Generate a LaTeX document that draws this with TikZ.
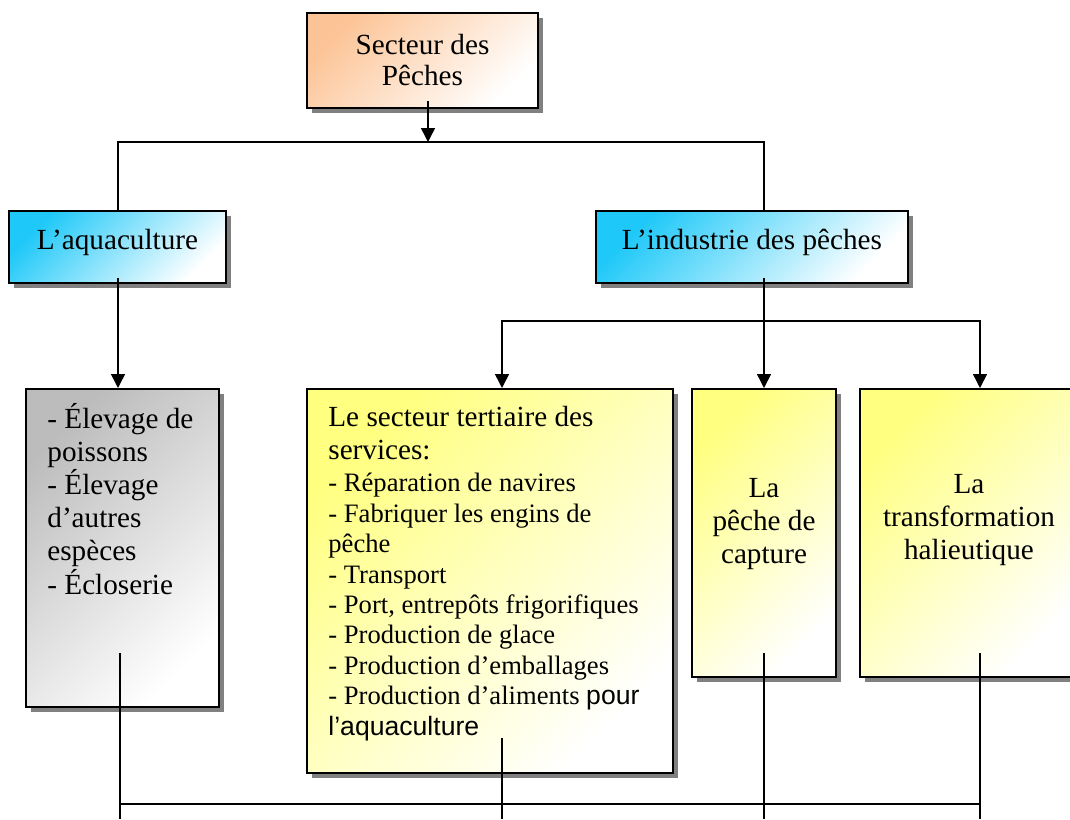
\documentclass[tikz,border=0pt]{standalone}
\usepackage{fontspec}
\setmainfont{Liberation Serif}
\newfontfamily\arialf{Liberation Sans}
\usepackage{tikz}
\usetikzlibrary{arrows.meta, shadows, calc, positioning}

\definecolor{peche}{RGB}{252,196,150}
\definecolor{ciel}{RGB}{30,200,248}
\definecolor{gris}{RGB}{188,188,188}
\definecolor{jaune}{RGB}{255,255,128}
\definecolor{ombre}{RGB}{128,128,128}

\tikzset{
    boite/.style={
        draw, rectangle, line width=1pt, inner sep=0pt, align=center,
        font=\fontsize{14.6}{16.6}\selectfont,
        top color=#1, bottom color=white, shading angle=45,
        drop shadow={shadow xshift=2.5pt, shadow yshift=-2.5pt, fill=ombre, opacity=1}
    },
    boite/.default={jaune},
    texte/.style={inner sep=0pt, align=left, font=\fontsize{14.6}{16.6}\selectfont},
    fleche/.style={line width=0.75pt, -{Triangle[width=7pt,length=7pt]}},
    trait/.style={line width=0.75pt}
}

\begin{document}
\begin{tikzpicture}[x=0.5pt, y=-0.5pt]
    \useasboundingbox (0,0) rectangle (1070,819);
    % boites
    \node[boite=peche, minimum width=115.5pt, minimum height=47.5pt, font=\fontsize{14.6}{15.5}\selectfont] (secteur) at (422.5,60.5) {Secteur des\\Pêches};
    \node[boite=ciel, minimum width=108.5pt, minimum height=36pt, text height=10pt, text depth=8pt] (aqua) at (117.5,247) {L’aquaculture};
    \node[boite=ciel, minimum width=156pt, minimum height=36pt, text height=10pt, text depth=8pt] (indus) at (752,247) {L’industrie des pêches};
    \node[boite=gris, minimum width=96.5pt, minimum height=159pt] (elevage) at (122.5,548) {};
    \node[boite, minimum width=183pt, minimum height=192pt] (tertiaire) at (490,581) {};
    \node[boite, minimum width=72pt, minimum height=144pt, text depth=12pt] (capture) at (764,533) {La\\pêche de\\capture};
    \node[boite, minimum width=109pt, minimum height=144pt, text depth=16pt] (transfo) at (969,533) {La\\transformation\\halieutique};
    % textes
    \node[texte, anchor=base west] (elevtxt) at (47,594) {- Élevage de\\poissons\\- Élevage\\d’autres\\espèces\\- Écloserie};
    \node[texte, anchor=base west, font=\fontsize{13.3}{15.2}\selectfont] (tertxt) at (328,735)
        {{\fontsize{14.6}{15.2}\selectfont Le secteur tertiaire des}\\[1.3pt]
         {\fontsize{14.6}{15.2}\selectfont services:}\\[0.8pt]
         - Réparation de navires\\
         - Fabriquer les engins de\\
         pêche\\
         - Transport\\
         - Port, entrepôts frigorifiques\\
         - Production de glace\\
         - Production d’emballages\\
         - Production d’aliments {\arialf pour}\\
         {\arialf l’aquaculture}};
    % liaisons
    \coordinate (j0) at (428,142);
    \coordinate (j1) at (764,321);
    \coordinate (bas) at (0,804);
    \coordinate (fin) at (0,819);
    \coordinate (e1) at (120,653);
    \coordinate (t1) at (502,738);
    \coordinate (c1) at (764,653);
    \coordinate (h1) at (980,653);
    \draw[fleche] ($(secteur.south -| j0)+(0,-8)$) -- (j0);
    \draw[trait] ($(aqua.north)+(0.5,0)$) |- (j0) -| (indus.north -| capture.north);
    \draw[fleche] ($(aqua.south)+(0.5,-6)$) -- ($(aqua.south |- elevage.north)+(0.5,0)$);
    \draw[fleche] ($(indus.south -| capture.north)+(0,-6)$) -- (capture.north);
    \draw[fleche] (j1) -| ($(tertiaire.north)+(12,0)$);
    \draw[fleche] (j1) -| (transfo.north -| h1);
    \foreach \c in {e1,t1,c1,h1}
        \draw[trait] (\c) -- (\c |- fin);
    \draw[trait] (e1 |- bas) -- (h1 |- bas);
\end{tikzpicture}
\end{document}
